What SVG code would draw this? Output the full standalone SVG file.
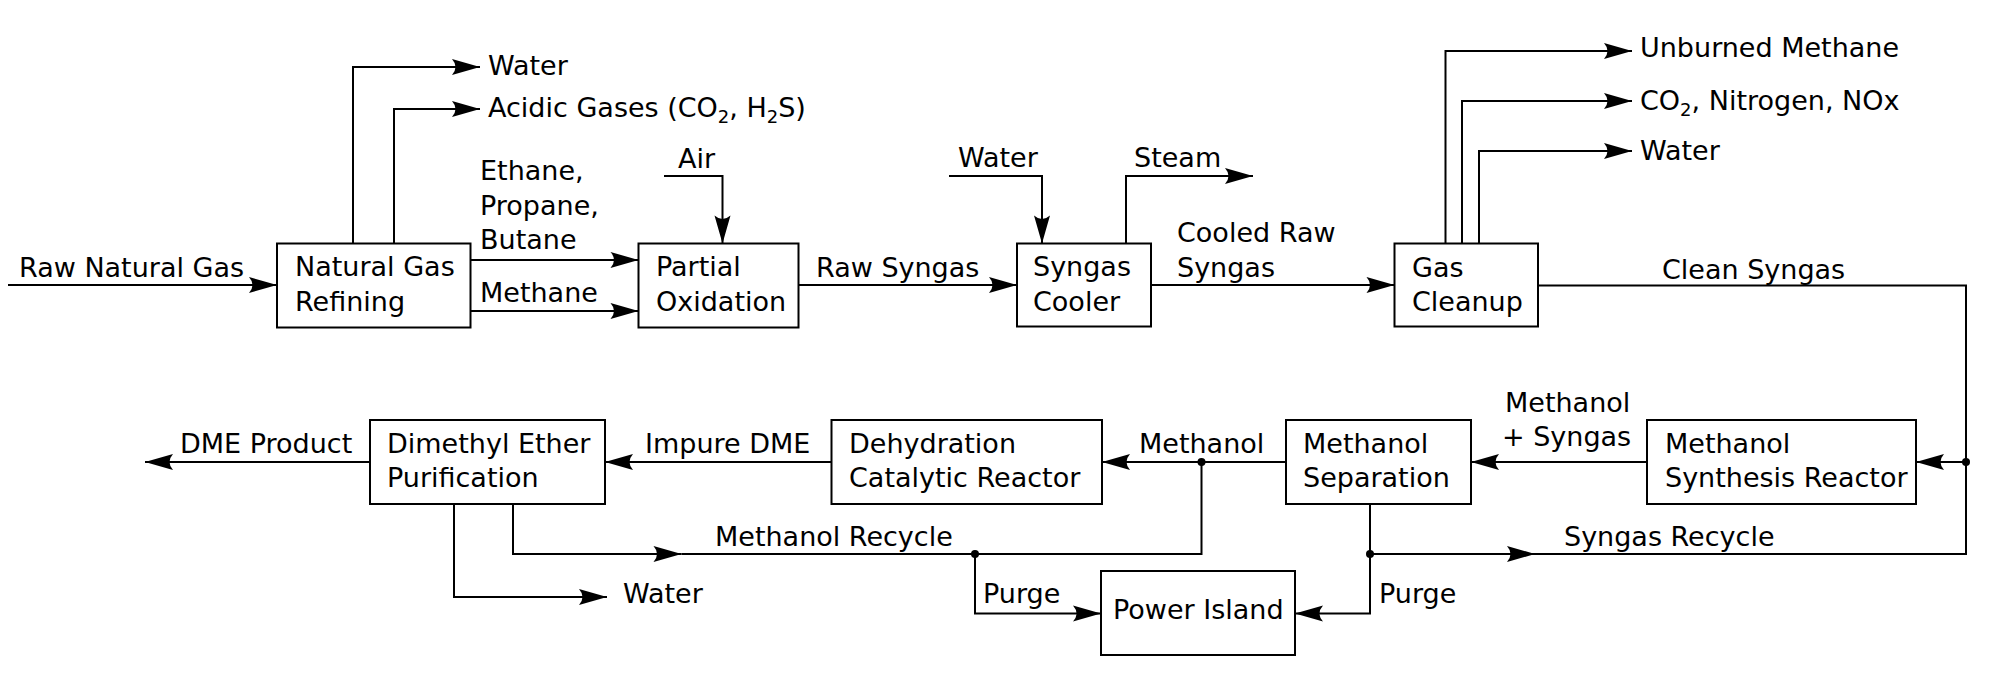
<svg xmlns="http://www.w3.org/2000/svg" width="2000" height="689" viewBox="0 0 2000 689">
<style>
text{font-family:"DejaVu Sans","Liberation Sans",sans-serif;font-size:27px;fill:#000}
.box{fill:#fff;stroke:#000;stroke-width:2}
.c{fill:none;stroke:#000;stroke-width:2}
.a{marker-end:url(#ah)}
.sub{font-size:18px}
</style>
<defs>
<marker id="ah" markerUnits="userSpaceOnUse" markerWidth="32" markerHeight="20" refX="0" refY="0" viewBox="-30 -10 32 20" orient="auto" overflow="visible">
<path d="M0,0 L-28,-8 Q-21,0 -28,8 Z" fill="#000"/>
</marker>
</defs>
<rect width="2000" height="689" fill="#fff"/>
<g id="connectors">
<path class="c a" d="M8,285 H277"/>
<path class="c a" d="M353,243.5 V67 H480"/>
<path class="c a" d="M394,243.5 V109 H480"/>
<path class="c a" d="M470.5,260 H638.5"/>
<path class="c a" d="M470.5,311 H638.5"/>
<path class="c a" d="M664,176 H722.5 V243.5"/>
<path class="c a" d="M798.5,285 H1017"/>
<path class="c a" d="M949,176 H1042 V243.5"/>
<path class="c a" d="M1126,243.5 V176 H1253"/>
<path class="c a" d="M1151,285 H1394.5"/>
<path class="c a" d="M1445.5,243.5 V51 H1632"/>
<path class="c a" d="M1462,243.5 V101 H1632"/>
<path class="c a" d="M1479,243.5 V151 H1632"/>
<path class="c" d="M1538,285.5 H1966 V462"/>
<path class="c a" d="M1966,462 H1916"/>
<path class="c a" d="M1370,554 H1535"/>
<path class="c" d="M1535,554 H1966 V462"/>
<path class="c a" d="M1647,462 H1471"/>
<path class="c a" d="M1286,462 H1102"/>
<path class="c a" d="M513,504 V554 H681.5"/>
<path class="c" d="M681.5,554 H1201.5 V462"/>
<path class="c a" d="M975,554 V613.5 H1101"/>
<path class="c a" d="M1370,504 V613.5 H1295"/>
<path class="c a" d="M831.5,462 H605"/>
<path class="c a" d="M370,462 H145"/>
<path class="c a" d="M454,504 V597 H607"/>
<circle cx="1966" cy="462" r="4"/>
<circle cx="1201.5" cy="462" r="4"/>
<circle cx="975" cy="554" r="4"/>
<circle cx="1370" cy="554" r="4"/>
</g>
<g id="labels">
<text x="19" y="277">Raw Natural Gas</text>
<text x="488" y="75">Water</text>
<text x="488" y="117">Acidic Gases (CO<tspan class="sub" dy="6">2</tspan><tspan dy="-6">, H</tspan><tspan class="sub" dy="6">2</tspan><tspan dy="-6">S)</tspan></text>
<text x="678" y="168">Air</text>
<text x="480" y="180">Ethane,</text>
<text x="480" y="215">Propane,</text>
<text x="480" y="249">Butane</text>
<text x="480" y="302">Methane</text>
<text x="816" y="277">Raw Syngas</text>
<text x="958" y="167">Water</text>
<text x="1134" y="167">Steam</text>
<text x="1177" y="242">Cooled Raw</text>
<text x="1177" y="277">Syngas</text>
<text x="1640" y="57">Unburned Methane</text>
<text x="1640" y="110">CO<tspan class="sub" dy="6">2</tspan><tspan dy="-6">, Nitrogen, NOx</tspan></text>
<text x="1640" y="160">Water</text>
<text x="1662" y="279">Clean Syngas</text>
<text x="1505" y="412">Methanol</text>
<text x="1502" y="446">+ Syngas</text>
<text x="1139" y="453">Methanol</text>
<text x="645" y="453">Impure DME</text>
<text x="180" y="453">DME Product</text>
<text x="715" y="546">Methanol Recycle</text>
<text x="1564" y="546">Syngas Recycle</text>
<text x="623" y="603">Water</text>
<text x="983" y="603">Purge</text>
<text x="1379" y="603">Purge</text>
</g>
<g id="ngr"><rect class="box" x="277" y="243.5" width="193.5" height="84"/><text x="295" y="276">Natural Gas</text><text x="295" y="311">Refining</text></g>
<g id="po"><rect class="box" x="638.5" y="243.5" width="160" height="84"/><text x="656" y="276">Partial</text><text x="656" y="311">Oxidation</text></g>
<g id="sc"><rect class="box" x="1017" y="243.5" width="134" height="83"/><text x="1033" y="276">Syngas</text><text x="1033" y="311">Cooler</text></g>
<g id="gc"><rect class="box" x="1394.5" y="243.5" width="143.5" height="83"/><text x="1412" y="277">Gas</text><text x="1412" y="311">Cleanup</text></g>
<g id="msr"><rect class="box" x="1647" y="420" width="269" height="84"/><text x="1665" y="453">Methanol</text><text x="1665" y="487">Synthesis Reactor</text></g>
<g id="ms"><rect class="box" x="1286" y="420" width="185" height="84"/><text x="1303" y="453">Methanol</text><text x="1303" y="487">Separation</text></g>
<g id="dcr"><rect class="box" x="831.5" y="420" width="270.5" height="84"/><text x="849" y="453">Dehydration</text><text x="849" y="487">Catalytic Reactor</text></g>
<g id="dme"><rect class="box" x="370" y="420" width="235" height="84"/><text x="387" y="453">Dimethyl Ether</text><text x="387" y="487">Purification</text></g>
<g id="pi"><rect class="box" x="1101" y="571" width="194" height="84"/><text x="1113" y="619">Power Island</text></g>
</svg>
